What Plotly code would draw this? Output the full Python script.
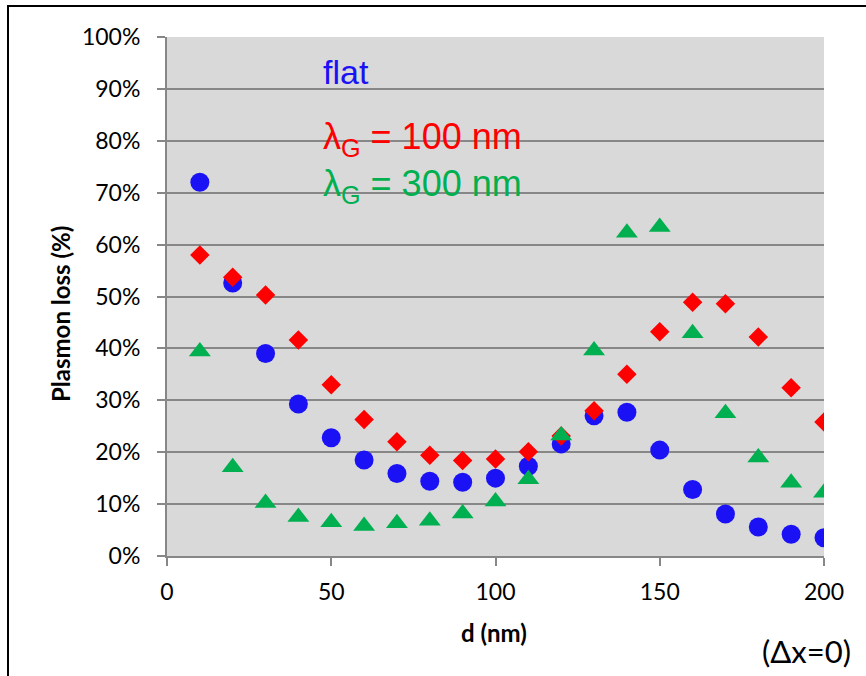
import plotly.graph_objects as go

d_nm = [10, 20, 30, 40, 50, 60, 70, 80, 90, 100, 110, 120, 130, 140, 150, 160, 170, 180, 190, 200]
flat = [72.0, 52.6, 39.0, 29.3, 22.8, 18.5, 15.9, 14.4, 14.2, 15.0, 17.3, 21.6, 27.0, 27.7, 20.4, 12.8, 8.1, 5.6, 4.2, 3.5]
lam100 = [58.0, 53.7, 50.3, 41.6, 33.0, 26.3, 22.0, 19.4, 18.4, 18.7, 20.1, 23.1, 28.0, 35.0, 43.2, 48.9, 48.6, 42.2, 32.4, 25.8]
lam300 = [39.4, 17.1, 10.2, 7.5, 6.5, 5.8, 6.3, 6.8, 8.2, 10.5, 14.8, 23.2, 39.6, 62.3, 63.4, 42.9, 27.5, 19.0, 14.1, 12.2]
y_ticks = [0, 10, 20, 30, 40, 50, 60, 70, 80, 90, 100]
y_labels = [f"{v}%" for v in y_ticks]
x_ticks = [0, 50, 100, 150, 200]

BLUE = "#1a12f5"
RED = "#ff0000"
GREEN = "#00b050"

fig = go.Figure()
fig.add_trace(go.Scatter(x=d_nm, y=flat, mode="markers", name="flat",
                         marker=dict(symbol="circle", size=19, color=BLUE)))
fig.add_trace(go.Scatter(x=d_nm, y=lam100, mode="markers", name="100",
                         marker=dict(symbol="diamond", size=15, color=RED)))
fig.add_trace(go.Scatter(x=d_nm, y=lam300, mode="markers", name="300",
                         marker=dict(symbol="triangle-up", size=19, color=GREEN)))

L, R, T, B = 167, 42, 37, 120
W, H = 866, 676
pw, ph = W - L - R, H - T - B

def px(x):
    return (x - L) / pw

def py(y):
    return (H - B - y) / ph

tickfont = dict(family="Lato, 'Open Sans', sans-serif", size=23, color="#000")

fig.update_layout(
    width=W, height=H,
    margin=dict(l=L, r=R, t=T, b=B),
    paper_bgcolor="white",
    plot_bgcolor="#d9d9d9",
    showlegend=False,
    xaxis=dict(range=[0, 200], tickvals=x_ticks, showgrid=False, zeroline=False,
               showline=True, linecolor="#878787", linewidth=2,
               ticks="outside", ticklen=8, tickwidth=2, tickcolor="#878787",
               ticklabelstandoff=6, tickfont=tickfont),
    yaxis=dict(range=[0, 100], tickvals=y_ticks, ticktext=y_labels,
               showgrid=True, gridcolor="#878787", gridwidth=2, zeroline=False,
               showline=True, linecolor="#878787", linewidth=2,
               ticks="outside", ticklen=8, tickwidth=2, tickcolor="#878787",
               ticklabelstandoff=12, tickfont=tickfont),
)

afont = "Arial, 'Liberation Sans', sans-serif"
fig.add_annotation(x=px(321), y=py(72), xref="paper", yref="paper", xanchor="left", yanchor="middle",
                   text="flat", showarrow=False, font=dict(family=afont, size=34, color=BLUE))
fig.add_annotation(x=px(321), y=py(139), xref="paper", yref="paper", xanchor="left", yanchor="middle",
                   text="λ<sub>G</sub> = 100 nm", showarrow=False, font=dict(family=afont, size=36, color=RED))
fig.add_annotation(x=px(321), y=py(186), xref="paper", yref="paper", xanchor="left", yanchor="middle",
                   text="λ<sub>G</sub> = 300 nm", showarrow=False, font=dict(family=afont, size=36, color=GREEN))
fig.add_annotation(x=px(60), y=py(314), xref="paper", yref="paper", xanchor="center", yanchor="middle",
                   text="<b>Plasmon loss (%)</b>", textangle=-90, showarrow=False,
                   font=dict(family="Lato, sans-serif", size=24, color="#000"))
fig.add_annotation(x=px(494), y=py(632), xref="paper", yref="paper", xanchor="center", yanchor="middle",
                   text="<b>d (nm)</b>", showarrow=False,
                   font=dict(family="Lato, sans-serif", size=24, color="#000"))
fig.add_annotation(x=px(853), y=py(651), xref="paper", yref="paper", xanchor="right", yanchor="middle",
                   text="(Δx=0)", showarrow=False,
                   font=dict(family="Lato, sans-serif", size=31, color="#000"))

fig.add_shape(type="rect", xref="paper", yref="paper",
              x0=px(8), y0=py(6), x1=px(W + 40), y1=py(H + 40),
              line=dict(color="#000", width=2), fillcolor="rgba(0,0,0,0)", layer="above")

fig.write_html("out.html")
